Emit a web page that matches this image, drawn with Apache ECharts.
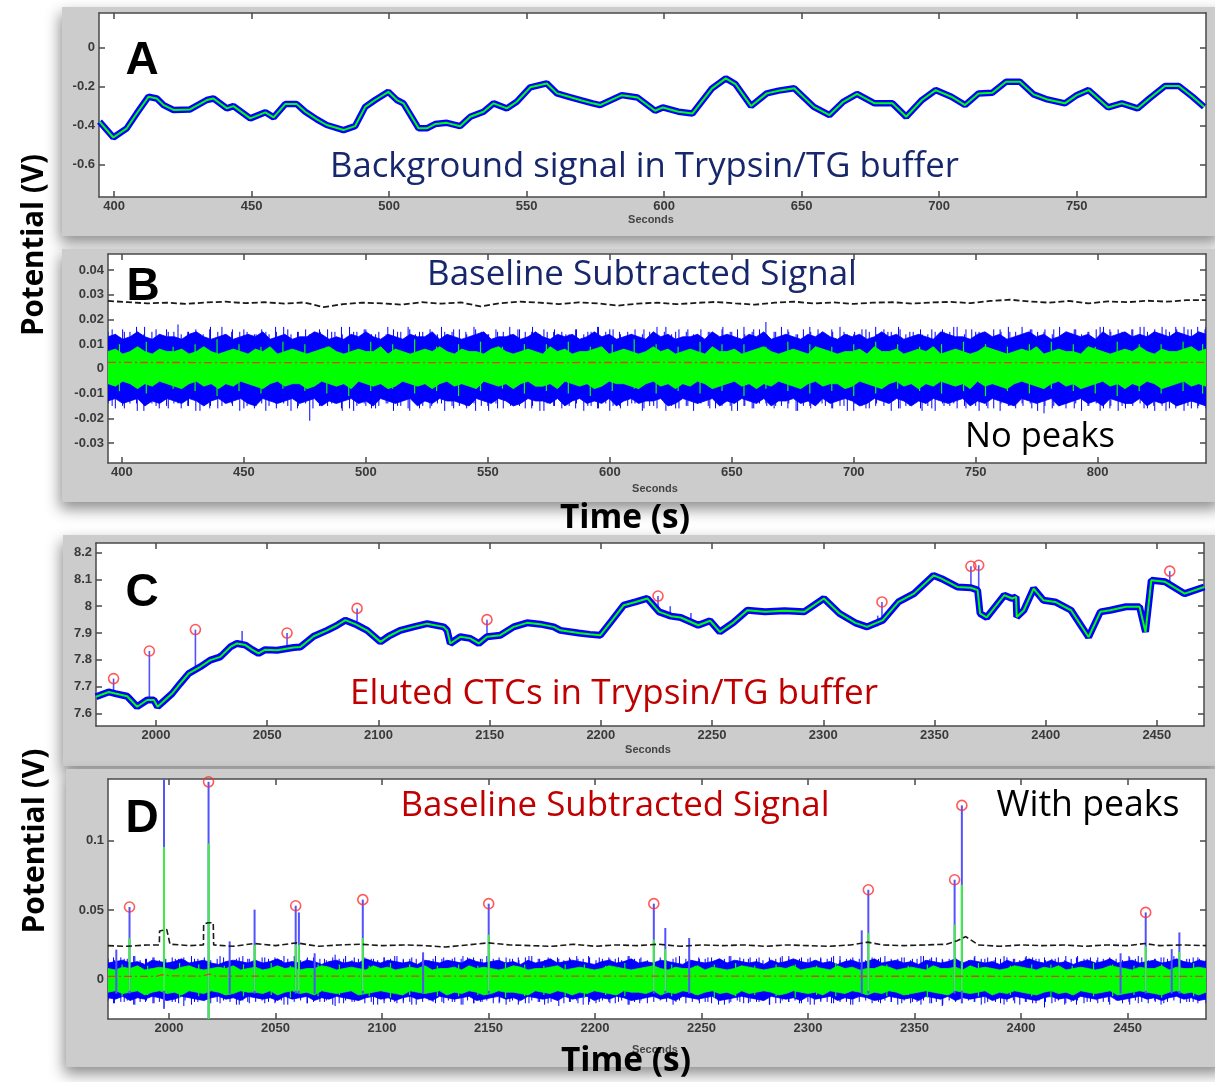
<!DOCTYPE html>
<html><head><meta charset="utf-8">
<script src="https://cdn.jsdelivr.net/npm/echarts@6.0.0/dist/echarts.min.js"></script>
<style>html,body{margin:0;padding:0;background:#fff}#c{width:1215px;height:1082px}</style>
</head><body><div id="c"></div>
<script>
// ---------------- DATA ----------------
// Panel A: background signal (V) vs seconds
const A_t = [394.7,399.7,404.6,408.2,412.5,415.5,418,421.6,427.6,433.7,436.1,441,443.4,449.5,455,458,462.2,466.4,469.5,473.7,477.3,483.4,487.6,491.3,494.9,499.7,502.8,505.2,510.7,513.7,516.7,521,525.8,529.5,534.3,538,542.8,546.4,551.3,557.3,561,565,570,574,576.7,584.6,590.3,596.7,599.5,605.2,610.3,617.4,622.4,625.9,631.6,637.3,641.6,647.3,654.4,660.1,665.1,670.1,676.5,683,688,693.7,698.7,704.4,709.4,714.3,719.3,724.3,729.3,734.3,739.3,745.7,750,754.3,761.4,766.4,772.1,776.4,782.1,787.1,792.1,796.3];
const A_v = [-0.379,-0.460,-0.413,-0.337,-0.251,-0.260,-0.294,-0.319,-0.316,-0.268,-0.260,-0.311,-0.299,-0.362,-0.331,-0.357,-0.289,-0.289,-0.328,-0.367,-0.396,-0.422,-0.402,-0.303,-0.268,-0.226,-0.268,-0.285,-0.413,-0.413,-0.391,-0.385,-0.402,-0.354,-0.328,-0.285,-0.311,-0.277,-0.203,-0.183,-0.234,-0.250,-0.270,-0.285,-0.294,-0.243,-0.255,-0.323,-0.306,-0.328,-0.337,-0.208,-0.157,-0.186,-0.299,-0.234,-0.220,-0.208,-0.303,-0.345,-0.277,-0.237,-0.285,-0.285,-0.354,-0.268,-0.217,-0.251,-0.294,-0.234,-0.231,-0.174,-0.174,-0.239,-0.265,-0.285,-0.243,-0.217,-0.306,-0.285,-0.311,-0.260,-0.196,-0.196,-0.251,-0.303];
const A_xTicks = [400,450,500,550,600,650,700,750];
const A_yTicks = [-0.6,-0.4,-0.2,0];

// Panel B: baseline subtracted (mV), envelopes sampled evenly over 394.3–844.4 s
const B_range = [394.3, 844.4];
const B_blueHi = [13,14,12,13,15,13,12,14,13,13,12,14,15,13,12,13,14,12,13,14,13,15,12,13,14,12,13,13,15,14,12,13,12,14,13,15,13,12,14,13,12,14,13,13,15,12,14,13,12,13,14,15,12,13,13,14,12,13,15,13,12,14,13,14,12,13,15,13,14,12,13,14,13,12,15,13,14,12,13,13,14,12,15,13,14,13,12,14,13,15,12,13,14,13,12,14,13,15,13,12,14,13,14,12,13,15,13,14,12,13,14,13,12,15,14,13,13,12,14,15,13,14,12,13,14,15,13,14,12,13,15,14,13,14,12,15,13,14,15,13,14,13,15,14,13,15,14,13,15,14];
const B_blueLo = [-13,-12,-14,-13,-12,-15,-13,-14,-12,-13,-14,-12,-13,-15,-13,-12,-14,-13,-12,-14,-15,-12,-13,-14,-13,-12,-14,-13,-12,-15,-13,-14,-13,-12,-14,-13,-15,-12,-13,-14,-13,-12,-15,-13,-14,-12,-13,-13,-14,-15,-12,-13,-14,-12,-13,-15,-14,-12,-13,-13,-14,-12,-15,-13,-12,-14,-13,-14,-12,-15,-13,-12,-14,-13,-13,-12,-15,-14,-12,-13,-14,-13,-12,-15,-13,-14,-12,-13,-14,-12,-15,-13,-13,-12,-14,-13,-15,-12,-14,-13,-12,-13,-15,-14,-12,-13,-14,-12,-13,-15,-13,-14,-12,-13,-14,-13,-12,-15,-13,-14,-12,-13,-14,-15,-12,-13,-14,-13,-12,-15,-14,-13,-12,-14,-13,-15,-12,-13,-14,-14,-12,-15,-13,-14,-13,-15,-14,-13,-14,-15];
const B_greenHi = [7,8,6,7,9,7,6,8,7,7,8,6,7,9,7,6,7,8,7,6,8,7,9,6,7,8,7,6,7,8,9,7,6,7,8,7,7,9,6,8,7,6,7,8,7,9,7,6,8,7,7,6,8,9,7,6,7,8,7,6,9,7,8,6,7,7,8,9,6,7,8,7,6,7,9,7,8,6,7,8,7,6,9,7,7,8,6,7,8,9,7,6,7,8,7,6,9,8,7,6,7,7,8,6,9,7,7,8,6,7,8,7,9,6,7,8,7,6,7,9,8,7,6,7,8,7,9,6,7,8,7,7,6,9,8,7,6,7,8,7,9,7,6,8,7,7,8,9,7,8];
const B_greenLo = [-6,-7,-5,-6,-8,-6,-7,-5,-6,-7,-8,-6,-5,-7,-6,-8,-6,-7,-5,-6,-7,-8,-6,-5,-7,-6,-6,-8,-7,-5,-6,-7,-6,-8,-5,-6,-7,-6,-8,-7,-5,-6,-7,-6,-8,-6,-5,-7,-6,-7,-8,-5,-6,-7,-6,-8,-6,-5,-7,-7,-6,-8,-5,-6,-7,-6,-8,-7,-5,-6,-6,-7,-8,-6,-5,-7,-6,-8,-6,-7,-5,-6,-8,-7,-6,-5,-7,-6,-8,-6,-7,-5,-6,-7,-8,-6,-5,-7,-6,-6,-8,-7,-5,-6,-7,-8,-6,-5,-7,-6,-8,-6,-7,-5,-6,-7,-6,-8,-5,-7,-6,-7,-8,-6,-5,-6,-7,-8,-6,-5,-7,-6,-8,-7,-6,-5,-7,-6,-8,-6,-7,-5,-6,-8,-7,-6,-5,-7,-6,-7];
// per-sample extremes (mV), evenly sampled over the same span
const B_fuzzHi = [15,14,16,15,14,17,15,14,16,15,14,15,16,14,17,15,14,16,15,15,14,16,14,15,17,14,15,16,14,15,16,15,14,17,15,16,14,15,14,16,15,17,14,15,16,14,15,15,16,14,17,15,14,16,15,14,16,15,17,14,15,16,15,14,16,14,15,17,15,16,14,15,16,14,15,17,15,14,16,15,14,16,15,14,17,15,16,14,15,16,14,15,17,15,14,16,15,16,14,15,17,14,15,16,15,14,16,15,17,14,15,16,14,15,16,15,17,14,16,15,14,16,15,17,15,14,16,15,16,14,17,15,16,14,15,16,17,15,16,14,16,17,15,16,17,15,16,17,16,15,17];
const B_fuzzLo = [-14,-16,-15,-14,-17,-15,-14,-16,-15,-14,-16,-15,-17,-14,-15,-16,-14,-15,-17,-15,-16,-14,-15,-16,-14,-17,-15,-14,-16,-15,-15,-14,-17,-16,-15,-14,-16,-15,-14,-17,-15,-16,-14,-15,-16,-14,-17,-15,-15,-16,-14,-15,-17,-14,-16,-15,-14,-16,-15,-17,-14,-15,-16,-15,-14,-17,-15,-16,-14,-15,-16,-15,-14,-17,-15,-16,-14,-15,-16,-15,-17,-14,-15,-16,-14,-15,-17,-15,-16,-14,-15,-16,-15,-14,-17,-15,-16,-14,-15,-16,-15,-17,-14,-15,-16,-14,-15,-17,-16,-15,-14,-16,-15,-17,-14,-15,-16,-15,-14,-17,-15,-16,-14,-15,-16,-15,-14,-17,-15,-16,-15,-14,-16,-17,-15,-14,-16,-15,-17,-16,-15,-14,-16,-17,-15,-16,-15,-17,-16,-15,-16];
const B_hairT = [396,401,406,409,414,419,423,427,432,436,441,445,450,455,459,463,468,472,477,481,486,490,495,500,504,509,513,518,522,527,531,536,541,545,550,554,559,563,568,573,577,582,586,591,595,600,604,609,614,618,623,627,632,636,641,646,650,655,659,664,668,673,677,682,687,691,696,700,705,709,714,719,723,728,732,737,741,746,750,755,760,764,769,773,778,782,787,791,796,801,805,810,814,819,823,828,832,837,841,844];
const B_hairHi = [16,15,17,14,16,15,18,15,14,16,17,15,16,14,15,17,16,15,14,16,15,17,15,16,14,17,15,16,15,14,17,16,15,16,14,15,17,16,15,16,15,14,16,15,17,16,15,14,16,15,17,15,16,14,15,16,15,17,16,19,15,16,14,17,15,16,15,14,16,17,15,16,15,14,16,15,17,16,15,14,16,15,17,16,15,16,14,16,15,17,16,15,16,17,15,16,17,16,17,16];
const B_hairLo = [-15,-16,-14,-17,-15,-16,-14,-15,-17,-16,-15,-14,-16,-15,-17,-14,-15,-16,-21,-15,-14,-16,-17,-15,-16,-14,-15,-17,-16,-15,-14,-16,-15,-17,-15,-16,-14,-15,-16,-17,-15,-14,-16,-15,-16,-17,-15,-14,-16,-15,-17,-16,-15,-14,-16,-15,-17,-15,-16,-14,-15,-16,-17,-15,-14,-16,-15,-17,-16,-15,-14,-16,-15,-17,-16,-15,-14,-16,-15,-16,-17,-15,-14,-16,-18,-15,-16,-14,-15,-17,-16,-15,-14,-16,-15,-17,-16,-15,-16,-15];
const B_gHairT = [399,410,421,430,439,448,457,466,475,484,493,502,511,520,529,538,547,556,565,574,583,592,601,610,619,628,637,646,655,664,673,682,691,700,709,718,727,736,745,754,763,772,781,790,799,808,817,826,835,843];
const B_gHairHi = [10,11,9,10,12,10,9,11,10,9,10,11,10,12,9,10,11,9,10,10,11,9,10,12,10,9,11,10,10,9,11,10,9,10,11,10,9,10,11,10,9,10,11,10,9,11,10,10,11,10];
const B_gHairLo = [-9,-10,-8,-9,-11,-9,-10,-8,-9,-10,-11,-9,-8,-10,-9,-11,-9,-8,-10,-9,-10,-11,-9,-8,-10,-9,-10,-9,-11,-8,-9,-10,-9,-11,-10,-8,-9,-10,-9,-11,-9,-10,-8,-9,-10,-11,-9,-10,-9,-10];
const B_threshold = [27.5,27.0,26.5,26.8,26.3,26.9,27.2,26.6,27.0,26.4,26.9,25.0,26.2,26.8,26.5,26.0,27.0,26.4,26.9,25.3,26.6,27.2,26.8,26.2,26.9,26.5,25.6,26.4,26.8,26.2,26.7,27.1,26.5,26.0,26.8,27.2,26.5,26.9,26.3,26.8,27.0,26.4,26.9,27.1,26.6,27.5,28.0,27.3,26.8,27.5,26.5,27.3,27.0,27.6,27.2,27.8,27.8];
const B_mean = [2.6,2.5,2.6,2.5,2.6];
const B_xTicks = [400,450,500,550,600,650,700,750,800];
const B_yTicks = [-0.03,-0.02,-0.01,0,0.01,0.02,0.03,0.04];

// Panel C: eluted CTC signal (V)
const C_t = [1973,1978.7,1981.7,1987,1991.5,1996,1999,2000.7,2007.2,2010.9,2014.7,2019.9,2024.4,2028.9,2033.4,2036.4,2040.2,2043.2,2046.1,2049.1,2054.4,2061.9,2064.9,2070.9,2076.9,2081.4,2085.1,2089.6,2094.9,2100.9,2104.6,2109.8,2115.8,2121.9,2129.3,2130.9,2132.3,2136.8,2141.3,2145.1,2148.8,2154.8,2160.8,2166.8,2172.8,2178.8,2181.8,2190,2195,2199.8,2205.1,2210.3,2215.6,2220.9,2226.2,2231.5,2235.9,2243.8,2249.1,2253.5,2259.7,2265.9,2273.8,2282.6,2291.4,2300.3,2307.3,2314.4,2319.7,2326.8,2333.8,2340.8,2349.6,2353.2,2360.3,2366.4,2369.4,2370.5,2373.5,2381.4,2385,2386.7,2387,2390.2,2394.6,2399,2404.3,2411.4,2419.3,2424.6,2429,2436.1,2442.2,2444.9,2447.5,2453.7,2462.5,2471.3];
const C_v = [7.662,7.680,7.674,7.664,7.625,7.650,7.650,7.625,7.674,7.712,7.749,7.774,7.799,7.811,7.848,7.861,7.855,7.838,7.824,7.838,7.836,7.846,7.848,7.888,7.910,7.929,7.948,7.933,7.910,7.867,7.888,7.910,7.923,7.935,7.923,7.910,7.861,7.886,7.880,7.861,7.886,7.892,7.923,7.938,7.933,7.923,7.910,7.900,7.895,7.892,7.948,8.004,8.016,8.029,7.979,7.963,7.958,7.929,7.946,7.904,7.940,7.985,7.979,7.983,7.979,8.029,7.973,7.938,7.923,7.948,8.016,8.047,8.115,8.103,8.072,8.069,8.060,7.973,7.958,8.041,8.029,8.035,7.960,7.985,8.066,8.022,8.016,7.985,7.885,7.979,7.985,7.998,7.998,7.904,8.097,8.091,8.047,8.072];
const C_peakT = [1980.9,1997.0,2017.7,2058.9,2090.4,2148.8,2225.7,2326.4,2366.4,2369.9,2455.8];
const C_peakV = [7.730,7.833,7.913,7.900,7.992,7.950,8.038,8.016,8.149,8.153,8.131];
const C_peakBase = [7.680,7.655,7.765,7.845,7.945,7.886,7.985,7.945,8.069,8.000,8.090];
const C_spikeT = [2028.3,2038.7,2231.2,2240.5,2324.5];
const C_spikeTop = [7.825,7.908,8.000,7.975,7.965];
const C_spikeBase = [7.805,7.858,7.963,7.950,7.925];
const C_xTicks = [2000,2050,2100,2150,2200,2250,2300,2350,2400,2450];
const C_yTicks = [7.6,7.7,7.8,7.9,8,8.1,8.2];

// Panel D: baseline subtracted with peaks (mV), envelopes sampled evenly over 1971.4–2486.8 s
const D_range = [1971.4, 2486.8];
const D_blueHi = [12,13,14,12,13,11,14,13,12,13,15,12,13,14,12,11,13,14,13,12,14,12,13,15,12,13,12,14,13,11,13,14,12,13,12,15,13,12,14,13,12,13,11,14,13,12,14,13,12,15,13,12,13,14,12,13,11,14,12,13,15,12,13,14,13,12,11,13,14,12,13,15,12,13,12,14,13,12,11,14,13,12,13,15,12,14,13,12,13,11,14,12,13,15,13,12,14,12,13,11,13,14,12,13,15,12,13,14,12,13,11,14,13,12,13,15,12,14,13,12,13,11,14,12,13,15,13,12,14,12,13,11,13,14,12,13,15,12,13,14,12,13,14,12,13,15,13,12,14,13];
const D_blueLo = [-13,-14,-12,-15,-13,-14,-12,-13,-15,-14,-12,-13,-14,-15,-13,-12,-14,-13,-15,-12,-13,-14,-13,-15,-12,-14,-13,-12,-15,-13,-14,-12,-13,-14,-15,-13,-12,-14,-13,-15,-13,-12,-14,-13,-15,-12,-13,-14,-13,-12,-15,-14,-13,-12,-14,-13,-15,-12,-13,-14,-13,-15,-12,-14,-13,-12,-15,-13,-14,-12,-13,-15,-14,-13,-12,-14,-13,-15,-12,-13,-14,-13,-12,-15,-14,-13,-12,-13,-14,-15,-12,-13,-14,-13,-15,-12,-14,-13,-12,-15,-13,-14,-12,-13,-15,-14,-12,-13,-14,-13,-15,-12,-13,-14,-12,-15,-13,-14,-13,-12,-15,-13,-14,-12,-13,-14,-15,-13,-12,-14,-13,-15,-12,-13,-14,-13,-12,-15,-14,-13,-12,-14,-13,-15,-13,-12,-14,-13,-15,-14];
const D_greenHi = [8,7,9,8,10,7,8,9,8,7,9,10,8,7,8,9,8,10,7,8,9,7,8,10,8,9,7,8,8,10,9,7,8,9,8,7,10,8,9,7,8,9,8,10,7,8,8,9,7,10,8,9,8,7,8,10,9,7,8,8,9,10,7,8,9,8,7,8,10,9,8,7,8,9,10,8,7,9,8,8,10,7,9,8,7,8,10,9,8,7,8,9,8,10,7,8,9,8,7,10,8,9,7,8,8,10,9,7,8,9,8,7,10,8,8,9,7,10,8,9,8,7,8,10,9,8,7,9,8,10,7,8,9,8,7,8,10,9,8,7,9,8,8,10,7,9,8,8,9,8];
const D_greenLo = [-9,-8,-10,-9,-8,-11,-9,-8,-10,-9,-11,-8,-9,-10,-8,-9,-11,-10,-8,-9,-9,-10,-8,-11,-9,-8,-10,-9,-11,-8,-9,-10,-9,-8,-11,-10,-9,-8,-9,-10,-11,-8,-9,-10,-9,-8,-11,-9,-10,-8,-9,-11,-10,-8,-9,-9,-10,-11,-8,-9,-10,-8,-9,-11,-9,-10,-8,-9,-10,-11,-8,-9,-9,-10,-8,-11,-9,-10,-8,-9,-11,-9,-8,-10,-9,-11,-8,-10,-9,-8,-9,-11,-10,-8,-9,-10,-9,-11,-8,-9,-10,-8,-9,-11,-9,-10,-8,-9,-11,-10,-9,-8,-9,-10,-11,-8,-9,-10,-9,-8,-11,-9,-10,-8,-9,-10,-11,-9,-8,-10,-9,-11,-8,-9,-10,-9,-8,-11,-10,-9,-8,-9,-10,-11,-9,-8,-10,-9,-11,-9];
const D_fuzzHi = [15,14,16,15,17,14,15,16,14,15,16,15,14,17,15,16,14,15,16,14,15,17,15,14,16,15,16,14,15,17,14,15,16,15,14,16,15,17,14,15,16,15,14,16,15,17,14,15,15,16,14,17,15,14,16,15,16,14,15,17,15,14,16,15,14,16,17,15,14,15,16,14,15,17,15,16,14,15,16,15,14,17,15,16,14,15,16,14,15,17,15,14,16,15,16,14,15,17,14,15,16,15,14,16,15,17,15,14,16,15,14,16,15,17,14,15,16,15,14,16,15,17,14,15,16,14,15,17,15,16,14,15,16,15,14,17,15,16,14,15,16,15,14,17,16,15,14,15,16,14,15,17,15,16,14,15,16,15,14,17,15,16,14,15,16,15,17,14,15,16,15,14];
const D_fuzzLo = [-15,-17,-16,-15,-18,-16,-15,-17,-16,-15,-16,-17,-15,-18,-16,-15,-17,-16,-15,-16,-18,-15,-17,-16,-15,-16,-17,-15,-18,-16,-15,-17,-16,-16,-15,-18,-17,-15,-16,-15,-17,-16,-18,-15,-16,-17,-15,-16,-18,-16,-15,-17,-16,-15,-16,-18,-15,-17,-16,-15,-17,-16,-18,-15,-16,-17,-15,-16,-18,-16,-15,-17,-16,-15,-18,-16,-17,-15,-16,-17,-15,-18,-16,-15,-17,-16,-15,-16,-18,-15,-17,-16,-15,-16,-17,-15,-18,-16,-15,-17,-16,-16,-15,-18,-17,-15,-16,-15,-17,-16,-18,-15,-16,-17,-15,-16,-18,-16,-15,-17,-16,-15,-16,-18,-15,-17,-16,-15,-17,-16,-18,-15,-16,-17,-15,-16,-18,-16,-15,-17,-16,-15,-18,-16,-17,-15,-16,-17,-15,-18,-16,-15,-17,-16,-15,-16,-18,-15,-17,-16,-15,-16,-17,-15,-18,-16,-15,-17,-16,-16,-15,-17];
const D_hairT = [1974,1979,1984,1989,1993,2003,2007,2012,2024,2033,2037,2045,2050,2054,2065,2073,2078,2082,2087,2096,2101,2106,2110,2114,2124,2129,2133,2138,2143,2147,2155,2160,2164,2169,2174,2178,2183,2188,2192,2197,2202,2207,2211,2216,2221,2238,2249,2253,2258,2263,2268,2272,2277,2282,2287,2291,2296,2301,2306,2311,2315,2320,2334,2339,2344,2349,2353,2358,2363,2378,2383,2388,2392,2397,2402,2407,2411,2416,2421,2426,2431,2436,2441,2451,2455,2463,2467,2479,2483];
const D_hairHi = [16,15,17,15,16,15,16,15,17,16,15,16,15,17,16,15,18,15,16,15,16,17,15,16,15,16,15,17,16,15,16,15,16,17,15,16,15,16,15,17,16,15,16,17,15,16,15,16,15,17,16,15,16,15,16,17,15,16,15,16,17,15,16,15,16,15,17,16,15,16,15,16,17,15,16,15,16,15,17,16,15,16,15,16,17,15,16,15,16];
const D_hairLo = [-17,-16,-18,-16,-17,-16,-19,-16,-17,-18,-16,-17,-16,-18,-17,-16,-19,-17,-16,-18,-17,-16,-17,-18,-16,-17,-16,-18,-17,-16,-17,-16,-18,-17,-16,-17,-19,-16,-17,-18,-16,-17,-16,-18,-17,-16,-17,-16,-18,-17,-16,-17,-16,-18,-17,-16,-17,-18,-16,-17,-16,-18,-17,-16,-17,-16,-18,-17,-19,-16,-17,-16,-18,-17,-16,-17,-20,-16,-17,-18,-16,-17,-16,-18,-17,-16,-17,-16,-17];
const D_gHairT = [1978,1990,2005,2014,2026,2035,2048,2057,2070,2080,2094,2104,2113,2126,2136,2145,2158,2167,2176,2186,2195,2205,2214,2236,2247,2256,2266,2275,2285,2294,2304,2313,2337,2347,2356,2380,2395,2405,2414,2424,2434,2443,2453,2466,2481];
const D_gHairHi = [11,10,12,11,10,11,12,10,11,11,10,12,11,10,11,10,12,11,10,11,11,10,12,11,10,11,12,10,11,11,10,12,11,10,11,12,10,11,11,10,12,11,10,11,12];
const D_gHairLo = [-12,-11,-13,-12,-11,-12,-11,-13,-12,-11,-12,-13,-11,-12,-12,-11,-13,-12,-11,-12,-13,-11,-12,-12,-11,-13,-12,-11,-12,-13,-11,-12,-12,-11,-13,-12,-11,-12,-13,-11,-12,-12,-11,-13,-12];
const D_stemT = [1975.3,1981.5,1997.7,2018.6,2028.5,2040.2,2059.5,2061.0,2068.4,2091.0,2119.3,2150.1,2227.6,2233.0,2244.2,2325.2,2328.3,2368.8,2372.2,2446.7,2458.5,2470.7,2474.3];
const D_stemTop = [21.6,52.3,150,142.4,27.6,50.4,53.2,48.4,19,57.6,19.7,54.7,54.7,37.2,30,35.5,64.7,71.9,125.4,19,48.4,22,34];
const D_stemBot = [-10,-10,-21,-30,-10,-10,-10,-10,-10,-10,-10,-10,-10,-10,-10,-10,-10,-10,-17,-10,-10,-10,-10];
const D_gStemT = [1981.5,1997.7,2018.6,2040.2,2059.5,2061.0,2091.0,2150.1,2227.6,2233.0,2328.3,2368.8,2372.2,2458.5,2474.3];
const D_gStemTop = [30,95.5,98,25,25,25,30,32.4,28.8,22,33.6,39.6,68.3,23.9,20];
const D_gStemBot = [-8,-8,-30,-8,-8,-8,-8,-8,-8,-8,-8,-8,-8,-8,-8];
const D_peakT = [1981.5,2018.6,2059.5,2091.0,2150.1,2227.6,2328.3,2368.8,2372.2,2458.5];
const D_peakV = [52.3,142.4,53.2,57.6,54.7,54.7,64.7,71.9,125.4,48.4];
const D_thrT = [1971.4,1980,1990,1995.5,1995.6,1999,2000.5,2010,2016.2,2016.3,2018.3,2020.8,2021,2030,2040,2050,2060,2070,2080,2090,2100,2110,2120,2130,2140,2150,2160,2170,2180,2190,2200,2210,2220,2230,2240,2250,2260,2270,2280,2290,2300,2310,2320,2328,2335,2345,2355,2365,2370,2374,2380,2390,2400,2410,2420,2430,2440,2450,2458,2465,2475,2486.8];
const D_thrV = [24.5,24,25,25,35,36,25.5,24.5,25,40,41,41,25,24,26,24.5,26.5,24,25,25.5,24.5,25,24.5,23.5,25,26.5,25,24.5,24,25.5,24,25,24.5,25.5,24,25,24.5,25,24,25,24.5,24,25,27,25,24.5,25,25.5,28,31,25,24,25,24.5,25,24,25,24.5,26,24.5,25,24.5];
const D_meanT = [1971.4,1994,1997,2000,2015,2019,2022,2486.8];
const D_meanV = [2.4,2.4,3.6,2.8,2.5,4.0,2.6,2.4];
const D_xTicks = [2000,2050,2100,2150,2200,2250,2300,2350,2400,2450];
const D_yTicks = [0,0.05,0.1];

// ---------------- BUILD ----------------
const BLUE = '#0000ff', GREEN = '#00ff00', STEMB = '#5252ff', STEMG = '#3fef3f';
const NAVY = '#17276b', DRED = '#c00000';
const grids = [
  {left:99, top:13, width:1107, height:184},
  {left:108, top:254, width:1098, height:209},
  {left:96, top:543, width:1108, height:183},
  {left:108, top:779, width:1098, height:240}
];
const ranges = [
  {x:[394.5,797], y:[-0.765,0.178], xt:A_xTicks, yt:A_yTicks},
  {x:[394.3,844.4], y:[-0.0381,0.0465], xt:B_xTicks, yt:B_yTicks},
  {x:[1973,2471.2], y:[7.553,8.236], xt:C_xTicks, yt:C_yTicks},
  {x:[1971.4,2486.8], y:[-0.0283,0.1444], xt:D_xTicks, yt:D_yTicks}
];
const AX = '#4a4a4a';
const fmt = v => String(parseFloat(Number(v).toPrecision(6)));
const labelStyle = {color:'#3a3a3a', fontSize:13, fontWeight:'bold', fontFamily:'"Liberation Sans", Arial, sans-serif', formatter:fmt};
const xAxes = [], yAxes = [];
ranges.forEach((r, i) => {
  const common = {type:'value', gridIndex:i, min:r.x[0], max:r.x[1], splitLine:{show:false},
    axisLine:{show:true, onZero:false, lineStyle:{color:AX, width:1.5}},
    axisTick:{show:true, inside:true, length:6, lineStyle:{color:AX, width:1.5}, customValues:r.xt}};
  xAxes.push(Object.assign({}, common, {position:'bottom', axisLabel:Object.assign({show:true, margin:3, customValues:r.xt}, labelStyle)}));
  xAxes.push(Object.assign({}, common, {position:'top', axisLabel:{show:false}}));
  const cy = {type:'value', gridIndex:i, min:r.y[0], max:r.y[1], splitLine:{show:false},
    axisLine:{show:true, onZero:false, lineStyle:{color:AX, width:1.5}},
    axisTick:{show:true, inside:true, length:6, lineStyle:{color:AX, width:1.5}, customValues:r.yt}};
  yAxes.push(Object.assign({}, cy, {position:'left', axisLabel:Object.assign({show:true, margin:4, customValues:r.yt}, labelStyle)}));
  yAxes.push(Object.assign({}, cy, {position:'right', axisLabel:{show:false}}));
});
const XI = i => 2*i, YI = i => 2*i;

function evenTimes(range, n){ const a=[]; for(let i=0;i<n;i++) a.push(range[0] + (range[1]-range[0])*i/(n-1)); return a; }

function band(p, range, lo, hi, scale, color, z){
  const n = Math.min(lo.length, hi.length);
  const T = evenTimes(range, n);
  const data = T.map((t,i)=>[t, lo[i]*scale, hi[i]*scale]);
  return {type:'custom', xAxisIndex:XI(p), yAxisIndex:YI(p), z, clip:true, silent:true, data,
    encode:{x:0, y:[1,2]},
    renderItem(params, api){
      if (params.dataIndexInside !== 0) return null;
      const m = params.dataInsideLength, top=[], bot=[];
      for (let j=0;j<m;j++){ const t=api.value(0,j); top.push(api.coord([t, api.value(2,j)])); bot.push(api.coord([t, api.value(1,j)])); }
      return {type:'polygon', shape:{points: top.concat(bot.reverse())}, style:{fill:color, stroke:color, lineWidth:0.8}};
    }};
}
function segs(p, T, lo, hi, scale, color, w, z){
  const n = Math.min(T.length, lo.length, hi.length);
  const data = []; for (let i=0;i<n;i++) data.push([T[i], lo[i]*scale, hi[i]*scale]);
  return {type:'custom', xAxisIndex:XI(p), yAxisIndex:YI(p), z, clip:true, silent:true, data,
    encode:{x:0, y:[1,2]},
    renderItem(params, api){
      const t = api.value(0);
      const a = api.coord([t, api.value(1)]), b = api.coord([t, api.value(2)]);
      return {type:'line', shape:{x1:a[0], y1:a[1], x2:b[0], y2:b[1]}, style:{stroke:color, lineWidth:w}};
    }};
}
function evenSegs(p, range, lo, hi, scale, color, w, z){
  return segs(p, evenTimes(range, Math.min(lo.length, hi.length)), lo, hi, scale, color, w, z);
}
function line(p, T, V, scale, style, z){
  const n = Math.min(T.length, V.length);
  const data = []; for (let i=0;i<n;i++) data.push([T[i], V[i]*scale]);
  return {type:'line', xAxisIndex:XI(p), yAxisIndex:YI(p), z, data, symbol:'none', silent:true, clip:true,
    lineStyle:style, animation:false};
}
function circles(p, T, V, scale, z){
  const data = T.map((t,i)=>[t, V[i]*scale]);
  return {type:'scatter', xAxisIndex:XI(p), yAxisIndex:YI(p), z, data, symbol:'circle', symbolSize:10, silent:true,
    itemStyle:{color:'rgba(255,255,255,0)', borderColor:'#ff3030', borderWidth:1.6}};
}
const mV = 0.001;
const series = [
  // A
  line(0, A_t, A_v, 1, {color:BLUE, width:6.5}, 2),
  line(0, A_t, A_v, 1, {color:GREEN, width:2}, 3),
  // B
  evenSegs(1, B_range, B_fuzzLo, B_fuzzHi, mV, BLUE, 1, 2),
  segs(1, B_hairT, B_hairLo, B_hairHi, mV, BLUE, 1, 2),
  band(1, B_range, B_blueLo, B_blueHi, mV, BLUE, 2),
  band(1, B_range, B_greenLo, B_greenHi, mV, GREEN, 3),
  segs(1, B_gHairT, B_gHairLo, B_gHairHi, mV, GREEN, 1.2, 3),
  line(1, evenTimes(B_range, B_mean.length), B_mean, mV, {color:'#d24a1a', width:1.3, type:[8,3,2,3]}, 6),
  line(1, evenTimes(B_range, B_threshold.length), B_threshold, mV, {color:'#1a1a1a', width:1.8, type:[6,3]}, 6),
  // C
  segs(2, C_peakT, C_peakBase, C_peakV, 1, STEMB, 1.6, 1),
  segs(2, C_spikeT, C_spikeBase, C_spikeTop, 1, STEMB, 1.6, 1),
  line(2, C_t, C_v, 1, {color:BLUE, width:7}, 2),
  line(2, C_t, C_v, 1, {color:GREEN, width:2}, 3),
  circles(2, C_peakT, C_peakV, 1, 7),
  // D
  evenSegs(3, D_range, D_fuzzLo, D_fuzzHi, mV, BLUE, 1, 2),
  segs(3, D_hairT, D_hairLo, D_hairHi, mV, BLUE, 1, 2),
  band(3, D_range, D_blueLo, D_blueHi, mV, BLUE, 2),
  band(3, D_range, D_greenLo, D_greenHi, mV, GREEN, 3),
  segs(3, D_gHairT, D_gHairLo, D_gHairHi, mV, GREEN, 1.2, 3),
  segs(3, D_stemT, D_stemBot, D_stemTop, mV, STEMB, 2, 4),
  segs(3, D_gStemT, D_gStemBot, D_gStemTop, mV, STEMG, 2, 5),
  line(3, D_meanT, D_meanV, mV, {color:'#d24a1a', width:1.3, type:[8,3,2,3]}, 6),
  line(3, D_thrT, D_thrV, mV, {color:'#1a1a1a', width:1.6, type:[6,3]}, 6),
  circles(3, D_peakT, D_peakV, mV, 7)
];

// ---------------- TEXT / DECOR ----------------
const SANS = '"Open Sans", "Noto Sans", sans-serif';
const mctx = document.createElement('canvas').getContext('2d');
function fit(text, weight, target){ mctx.font = weight + ' 100px ' + SANS; return 100*target/mctx.measureText(text).width; }
function txt(text, x, y, target, color, weight, rot){
  weight = weight || 'normal';
  const fs = fit(text, weight, target);
  return {type:'text', x, y, rotation: rot||0, z:100, silent:true,
    style:{text, fill:color, font: weight + ' ' + fs.toFixed(2) + 'px ' + SANS,
      textAlign:'center', textVerticalAlign:'middle', align:'center', verticalAlign:'middle'}};
}
function letter(ch, x, y){
  return {type:'text', x, y, z:100, silent:true, style:{text:ch, fill:'#000', font:'bold 46px "Liberation Sans", Arial, sans-serif',
    textAlign:'center', textVerticalAlign:'middle', align:'center', verticalAlign:'middle'}};
}
function small(text, x, y){
  return {type:'text', x, y, z:100, silent:true, style:{text, fill:'#444', font:'bold 11px "Liberation Sans", Arial, sans-serif',
    textAlign:'center', textVerticalAlign:'middle', align:'center', verticalAlign:'middle'}};
}
function panel(x, y, w, h){
  return {type:'rect', shape:{x, y, width:w, height:h}, z:-10, silent:true,
    style:{fill:'#cccccc', shadowBlur:14, shadowColor:'rgba(0,0,0,0.45)', shadowOffsetX:-2, shadowOffsetY:7}};
}
const graphic = [
  panel(62, 7, 1160, 229),
  panel(62, 249, 1160, 253),
  panel(63, 535, 1160, 231),
  panel(66, 769, 1160, 298),
  letter('A', 142, 61), letter('B', 143, 287), letter('C', 142, 593), letter('D', 142, 819),
  txt('Background signal in Trypsin/TG buffer', 644.5, 167, 629, NAVY),
  txt('Baseline Subtracted Signal', 642, 275, 430, NAVY),
  txt('No peaks', 1040, 437, 150, '#000'),
  txt('Eluted CTCs in Trypsin/TG buffer', 614, 694, 528, DRED),
  txt('Baseline Subtracted Signal', 615, 806, 429, DRED),
  txt('With peaks', 1088, 806, 183, '#000'),
  small('Seconds', 651, 220), small('Seconds', 655, 489), small('Seconds', 648, 750), small('Seconds', 655, 1050),
  txt('Time (s)', 625, 518, 130, '#000', 'bold'),
  txt('Time (s)', 626, 1061, 130, '#000', 'bold'),
  txt('Potential (V)', 35, 245, 182, '#000', 'bold', Math.PI/2),
  txt('Potential (V)', 35, 841, 185, '#000', 'bold', Math.PI/2)
];

const chart = echarts.init(document.getElementById('c'), null, {renderer:'canvas'});
chart.setOption({
  animation:false,
  backgroundColor:'#ffffff',
  grid: grids.map(g => Object.assign({show:true, backgroundColor:'#ffffff', borderWidth:0, containLabel:false}, g)),
  xAxis: xAxes, yAxis: yAxes,
  series, graphic
});
</script></body></html>
